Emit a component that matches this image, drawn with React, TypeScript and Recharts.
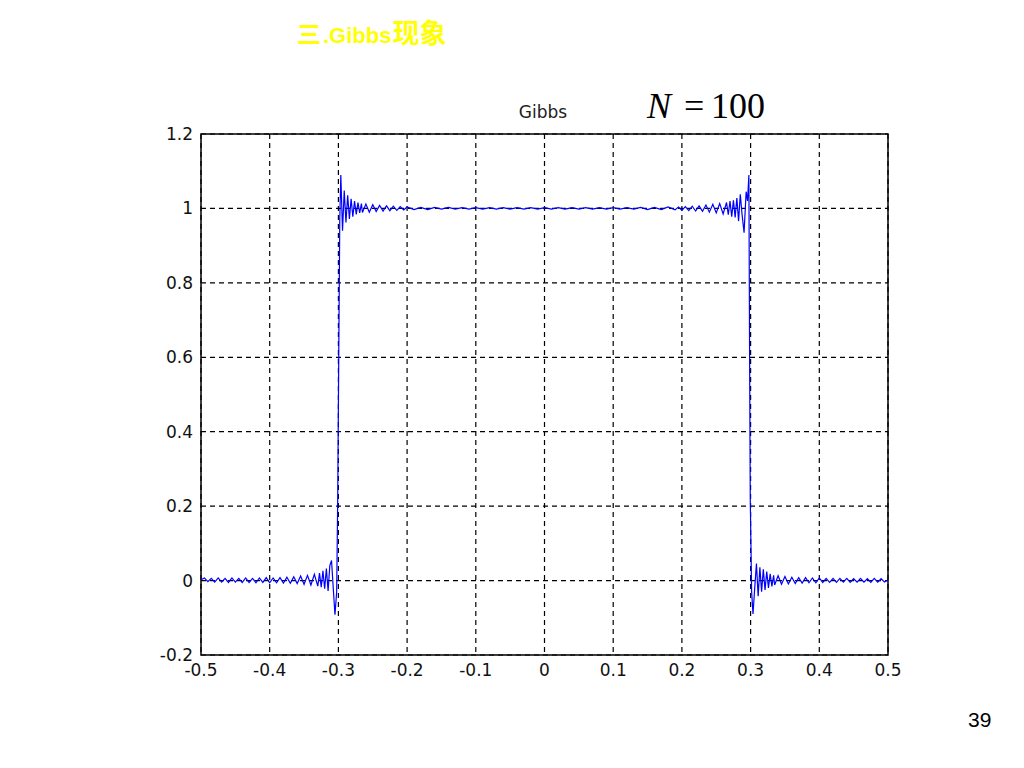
import React from "react";
import { LineChart, Line, XAxis, YAxis, CartesianGrid, ReferenceArea } from "recharts";

type Pt = [number, number];

const xTicks = [-0.5, -0.4, -0.3, -0.2, -0.1, 0, 0.1, 0.2, 0.3, 0.4, 0.5];
const yTicks = [-0.2, 0, 0.2, 0.4, 0.6, 0.8, 1, 1.2];

// partial sum, segment by segment
const leftTail: Pt[] = [
  [-0.5, 0.002], [-0.495, 0.007], [-0.49, -0.003], [-0.485, 0.006], [-0.48, -0.004],
  [-0.475, 0.007], [-0.47, -0.004], [-0.465, 0.006], [-0.46, -0.005], [-0.455, 0.007],
  [-0.45, -0.004], [-0.445, 0.006], [-0.44, -0.005], [-0.435, 0.007], [-0.43, -0.005],
  [-0.425, 0.006], [-0.42, -0.006], [-0.415, 0.007], [-0.41, -0.005], [-0.405, 0.008],
  [-0.4, -0.006], [-0.395, 0.007], [-0.39, -0.006], [-0.385, 0.008], [-0.38, -0.007],
  [-0.375, 0.009], [-0.37, -0.007], [-0.365, 0.01], [-0.36, -0.008], [-0.355, 0.012],
  [-0.35, -0.01], [-0.345, 0.014], [-0.34, -0.012], [-0.335, 0.017], [-0.33, -0.015],
];

const leftEdge: Pt[] = [
  [-0.3275, 0.02], [-0.325, -0.018], [-0.3225, 0.026], [-0.32, -0.022], [-0.3175, 0.032],
  [-0.315, -0.028], [-0.3125, 0.04], [-0.31, 0.054], [-0.3075, -0.02], [-0.305, -0.092],
  [-0.3025, -0.03], [-0.301, 0.22], [-0.2995, 0.6], [-0.298, 0.97], [-0.2965, 1.09],
  [-0.294, 0.94], [-0.2915, 1.048], [-0.289, 0.962], [-0.2865, 1.035], [-0.284, 0.972],
  [-0.2815, 1.026], [-0.279, 0.978], [-0.2765, 1.02], [-0.274, 0.984], [-0.2715, 1.016],
  [-0.269, 0.988], [-0.2665, 1.013],
];

const topFlat: Pt[] = [
  [-0.265, 0.989], [-0.26, 1.012], [-0.255, 0.99], [-0.25, 1.01], [-0.245, 0.992],
  [-0.24, 1.008], [-0.235, 0.993], [-0.23, 1.007], [-0.225, 0.994], [-0.22, 1.006],
  [-0.215, 0.995], [-0.21, 1.005], [-0.205, 0.996], [-0.2, 1.004], [-0.19, 0.997],
  [-0.18, 1.003], [-0.17, 0.997], [-0.16, 1.003], [-0.15, 0.998], [-0.14, 1.003],
  [-0.13, 0.998], [-0.12, 1.002], [-0.11, 0.998], [-0.1, 1.002], [-0.09, 0.998],
  [-0.08, 1.002], [-0.07, 0.998], [-0.06, 1.002], [-0.05, 0.998], [-0.04, 1.002],
  [-0.03, 0.998], [-0.02, 1.002], [-0.01, 0.998], [0, 1.002], [0.01, 0.998],
  [0.02, 1.002], [0.03, 0.998], [0.04, 1.002], [0.05, 0.998], [0.06, 1.002],
  [0.07, 0.998], [0.08, 1.002], [0.09, 0.998], [0.1, 1.002], [0.11, 0.998],
  [0.12, 1.002], [0.13, 0.998], [0.14, 1.003], [0.15, 0.997], [0.16, 1.003],
  [0.17, 0.997], [0.18, 1.004], [0.19, 0.996], [0.195, 1.004], [0.2, 0.995],
  [0.205, 1.005], [0.21, 0.994], [0.215, 1.006], [0.22, 0.993], [0.225, 1.007],
  [0.23, 0.992], [0.235, 1.009], [0.24, 0.99], [0.245, 1.011], [0.25, 0.988],
  [0.255, 1.013], [0.26, 0.985], [0.265, 1.016],
];

const rightEdge: Pt[] = [
  [0.2675, 0.983], [0.27, 1.02], [0.2725, 0.978], [0.275, 1.022], [0.2775, 0.976],
  [0.28, 1.028], [0.2825, 0.966], [0.285, 1.038], [0.2875, 0.985], [0.2905, 0.935],
  [0.2935, 1.045], [0.2955, 1.02], [0.2975, 1.09], [0.2985, 0.62], [0.2995, 0.22],
  [0.3015, -0.03], [0.3035, -0.09], [0.306, -0.02], [0.3085, 0.046], [0.311, -0.042],
  [0.3135, 0.036], [0.316, -0.03], [0.3185, 0.03], [0.321, -0.025], [0.3235, 0.024],
  [0.326, -0.02], [0.3285, 0.018], [0.331, -0.016], [0.3335, 0.014],
];

const rightTail: Pt[] = [
  [0.335, -0.012], [0.34, 0.013], [0.345, -0.01], [0.35, 0.011], [0.355, -0.009],
  [0.36, 0.009], [0.365, -0.008], [0.37, 0.008], [0.375, -0.007], [0.38, 0.008],
  [0.385, -0.006], [0.39, 0.007], [0.395, -0.006], [0.4, 0.007], [0.405, -0.005],
  [0.41, 0.006], [0.415, -0.005], [0.42, 0.006], [0.425, -0.005], [0.43, 0.006],
  [0.435, -0.004], [0.44, 0.006], [0.445, -0.005], [0.45, 0.005], [0.455, -0.004],
  [0.46, 0.006], [0.465, -0.004], [0.47, 0.005], [0.475, -0.005], [0.48, 0.006],
  [0.485, -0.004], [0.49, 0.005], [0.495, -0.004], [0.5, 0.002],
];

const data = [...leftTail, ...leftEdge, ...topFlat, ...rightEdge, ...rightTail].map(([x, y]) => ({ x, y }));

const tickFont = { fontFamily: "DejaVu Sans", fontSize: 17, fill: "#111" };

export default function App() {
  return (
    <div style={{ position: "absolute", left: 0, top: 0, width: 1024, height: 768, background: "#fff" }}>
      <LineChart width={1024} height={768} data={data} margin={{ top: 134, right: 136, left: 141, bottom: 83 }}>
        <CartesianGrid stroke="#000" strokeDasharray="5 4" strokeWidth={1.2} />
        <XAxis
          dataKey="x"
          type="number"
          domain={[-0.5, 0.5]}
          ticks={xTicks}
          tickFormatter={(v: number) => String(v)}
          axisLine={false}
          tickLine={false}
          tickMargin={3}
          height={30}
          tick={tickFont}
        />
        <YAxis
          type="number"
          domain={[-0.2, 1.2]}
          ticks={yTicks}
          tickFormatter={(v: number) => String(v)}
          axisLine={false}
          tickLine={false}
          width={60}
          tick={tickFont}
        />
        <ReferenceArea x1={-0.5} x2={0.5} y1={-0.2} y2={1.2} fill="none" stroke="#000" strokeWidth={1.5} fillOpacity={0} />
        <Line type="linear" dataKey="y" stroke="#0000ff" strokeWidth={1.2} dot={false} isAnimationActive={false} />
      </LineChart>
      <svg width={1024} height={768} style={{ position: "absolute", left: 0, top: 0, pointerEvents: "none" }}>
        <text x={297} y={43} fill="#ffff00" fontFamily="Liberation Sans, Noto Sans CJK SC" fontWeight="bold" fontSize={22}>
          <tspan fontFamily="Noto Sans CJK SC" fontSize={24}>三</tspan>
          <tspan dx={2}>.Gibbs</tspan>
          <tspan fontFamily="Noto Sans CJK SC" fontSize={27} dx={1}>现象</tspan>
        </text>
        <text x={543} y={118} textAnchor="middle" fontFamily="DejaVu Sans" fontSize={17} fill="#222">Gibbs</text>
        <text x={647} y={118} fontFamily="Liberation Serif" fontSize={36} fontStyle="italic" fill="#000">N</text>
        <text x={684} y={118} fontFamily="Liberation Serif" fontSize={36} fill="#000">=</text>
        <text x={711} y={118} fontFamily="Liberation Serif" fontSize={36} fill="#000">100</text>
        <text x={968} y={727} fontFamily="Liberation Sans" fontSize={21} fill="#000">39</text>
      </svg>
    </div>
  );
}
